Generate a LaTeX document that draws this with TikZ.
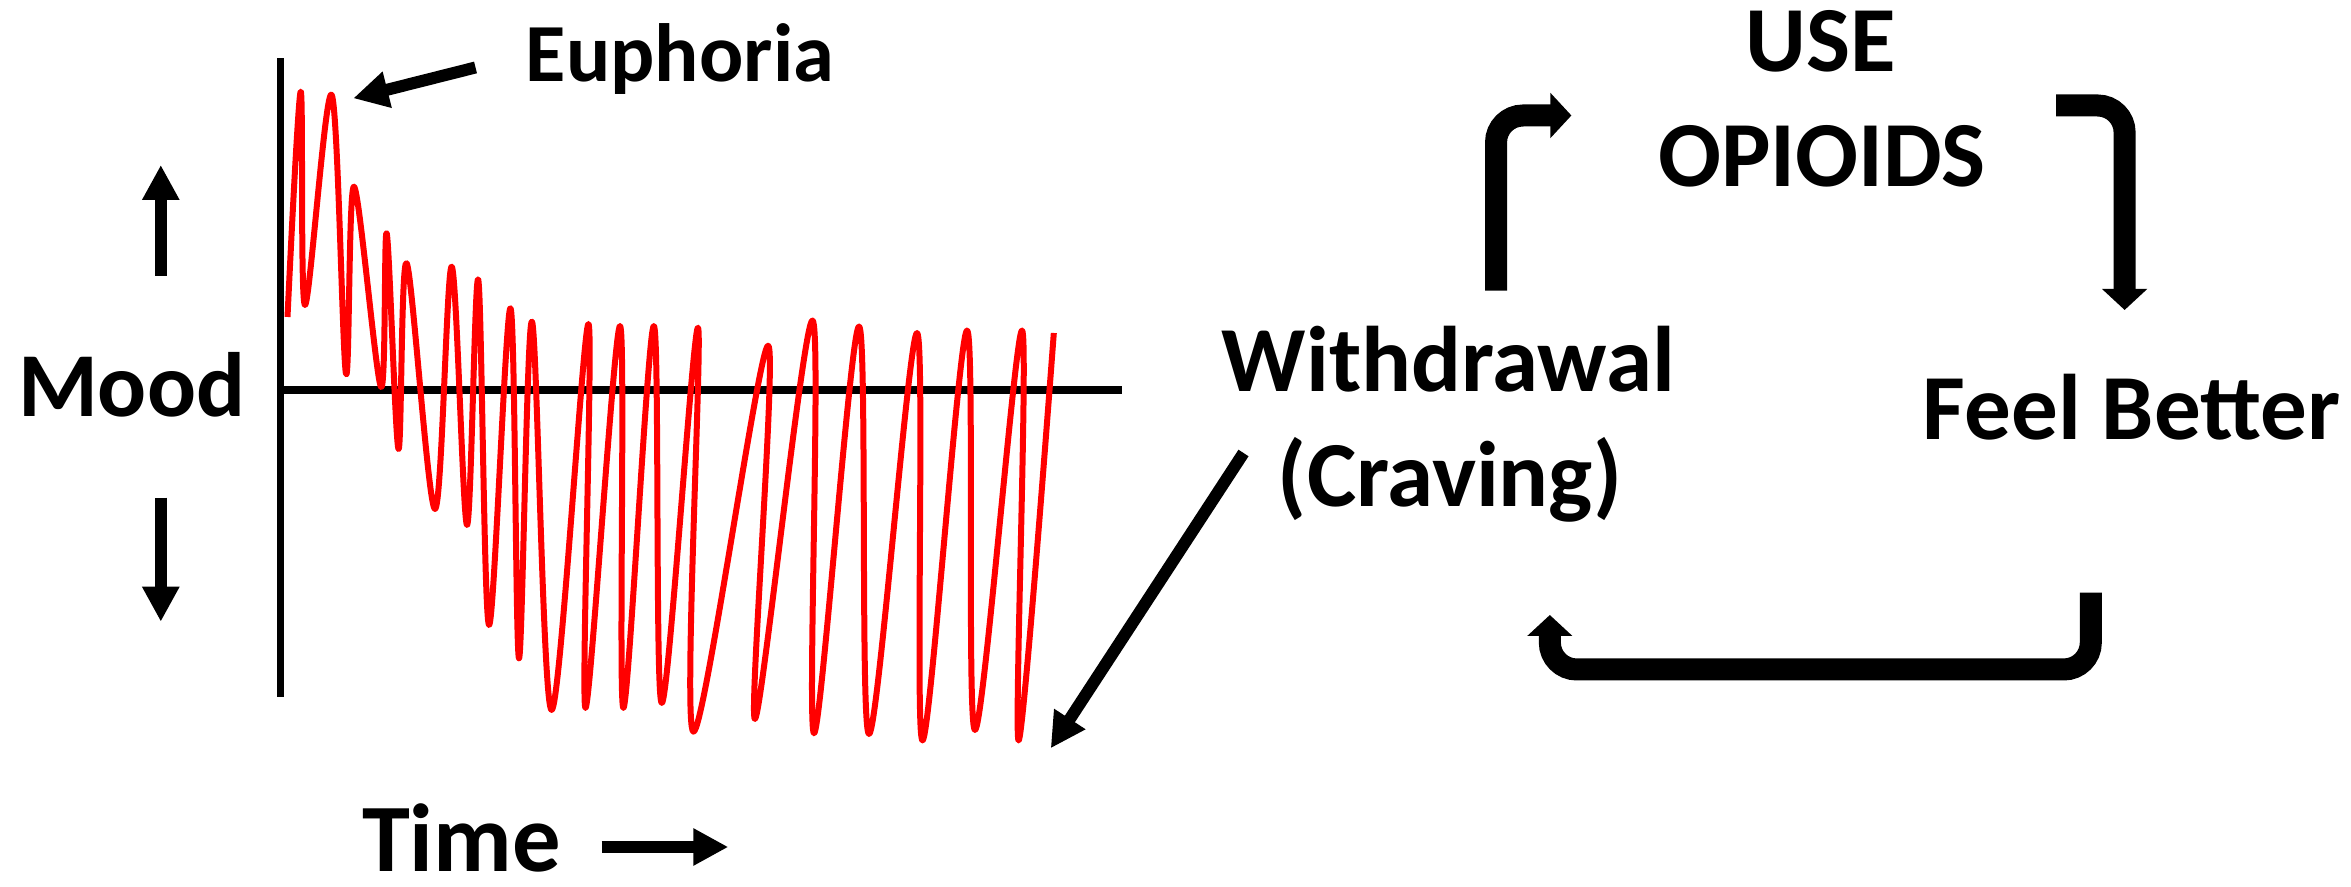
\documentclass[tikz,border=0pt]{standalone}
\usepackage{fontspec}
\setmainfont{Carlito}
\usetikzlibrary{arrows.meta}

\begin{document}
\begin{tikzpicture}[
    >={Triangle[width=3.5mm,length=3.5mm]},
    lbl/.style={font=\fontsize{26.5}{32}\selectfont\bfseries, inner sep=0pt, anchor=base},
    thin arrow/.style={->, line width=1.2mm},
    cycle arrow/.style={-{Triangle[width=4.4mm,length=2.1mm]}, line width=2.2mm, rounded corners=2.7mm}
  ]
  \useasboundingbox (0,0) rectangle (23.51,8.87);

  % axes
  \draw[line width=0.75mm] (2.805,8.287) -- (2.805,1.903);
  \draw[line width=0.75mm] (2.805,4.97) -- (11.22,4.97);

  % mood swings
  \draw[red, line width=0.6mm, line join=round] plot[smooth, tension=0.55] coordinates {
    (2.875,5.70) (3.007,7.953) (3.05,5.82) (3.317,7.92) (3.46,5.13) (3.54,7.003)
    (3.81,5.00) (3.867,6.537) (3.985,4.38) (4.067,6.237) (4.35,3.78) (4.517,6.203)
    (4.67,3.62) (4.783,6.07) (4.89,2.62) (5.105,5.787) (5.19,2.287) (5.32,5.653)
    (5.516,1.77) (5.884,5.63) (5.855,1.79) (6.20,5.61) (6.234,1.79) (6.538,5.61)
    (6.618,1.84) (6.98,5.593) (6.934,1.553) (7.68,5.413) (7.55,1.68) (8.125,5.665)
    (8.14,1.537) (8.59,5.605) (8.69,1.53) (9.17,5.54) (9.225,1.465) (9.67,5.565)
    (9.75,1.57) (10.22,5.565) (10.186,1.465) (10.538,5.54)};

  % labels
  \node[lbl, font=\fontsize{23.5}{28}\selectfont\bfseries] (euph) at (6.80,8.053) {Euphoria};
  \node[lbl, font=\fontsize{26}{31}\selectfont\bfseries] (mood) at (1.317,4.703) {Mood};
  \node[lbl, font=\fontsize{27.5}{33}\selectfont\bfseries] (time) at (4.615,0.15) {Time};
  \node[lbl] (wd) at (14.483,4.953) {Withdrawal};
  \node[lbl] (crav) at (14.50,3.803) {(Craving)};
  \node[lbl] (use) at (18.208,8.153) {USE};
  \node[lbl] (opi) at (18.22,7.003) {OPIOIDS};
  \node[lbl] (feel) at (21.317,4.47) {Feel Better};

  % arrow ends
  \coordinate (eu-tail) at (4.755,8.195);
  \coordinate (eu-tip) at (3.533,7.887);
  \coordinate (wd-tail) at (12.435,4.34);
  \coordinate (wd-tip) at (10.507,1.387);
  \coordinate (up-tail) at (1.608,6.113);
  \coordinate (up-tip) at (1.608,7.22);
  \coordinate (dn-tail) at (1.608,3.893);
  \coordinate (dn-tip) at (1.608,2.653);
  \coordinate (t-tail) at (6.017,0.40);
  \coordinate (t-tip) at (7.283,0.40);

  \draw[thin arrow] (eu-tail) -- (eu-tip);
  \draw[thin arrow] (wd-tail) -- (wd-tip);
  \draw[thin arrow] (up-tail) -- (up-tip);
  \draw[thin arrow] (dn-tail) -- (dn-tip);
  \draw[thin arrow] (t-tail) -- (t-tip);

  % cycle
  \coordinate (c1) at (14.96,5.963);
  \coordinate (c2) at (15.714,7.715);
  \coordinate (c3) at (20.56,7.815);
  \coordinate (c4) at (21.246,5.77);
  \coordinate (c5) at (20.908,2.943);
  \coordinate (c6) at (15.498,2.72);

  \draw[cycle arrow] (c1) |- (c2);
  \draw[cycle arrow] (c3) -| (c4);
  \draw[cycle arrow] (c5) -- (c5 |- 0,2.175) -| (c6);
\end{tikzpicture}
\end{document}
